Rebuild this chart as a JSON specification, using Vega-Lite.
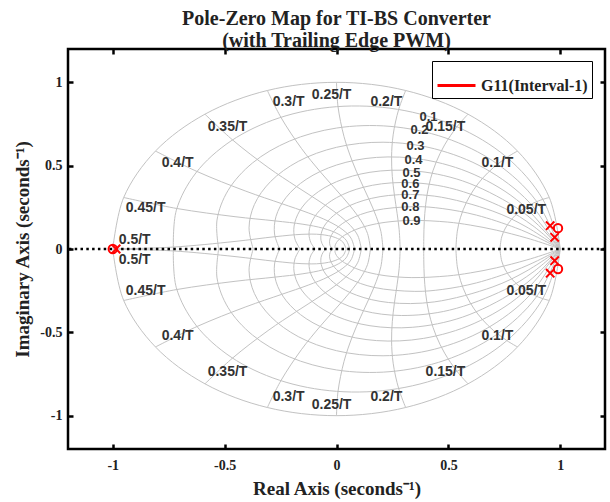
{
"$schema":"https://vega.github.io/schema/vega-lite/v6.json",
"width":537,"height":400,
"autosize":{"type":"none"},
"padding":{"left":68,"top":49,"right":5,"bottom":53},
"background":"white",
"title":{"text":["Pole-Zero Map for TI-BS Converter","(with Trailing Edge PWM)"],"font":"Liberation Serif","fontSize":20,"fontWeight":"bold","color":"#222","anchor":"middle","offset":-3,"lineHeight":22},
"config":{"view":{"stroke":"black","strokeWidth":2.5}},
"datasets":{
"grid":[
{"c":"z0","k":0,"x":1,"y":0},{"c":"z0","k":1,"x":0.95106,"y":0.30902},{"c":"z0","k":2,"x":0.80902,"y":0.58779},{"c":"z0","k":3,"x":0.58779,"y":0.80902},{"c":"z0","k":4,"x":0.30902,"y":0.95106},{"c":"z0","k":5,"x":0,"y":1},{"c":"z0","k":6,"x":-0.30902,"y":0.95106},{"c":"z0","k":7,"x":-0.58779,"y":0.80902},{"c":"z0","k":8,"x":-0.80902,"y":0.58779},{"c":"z0","k":9,"x":-0.95106,"y":0.30902},{"c":"z0","k":10,"x":-1,"y":0},
{"c":"z1","k":0,"x":1,"y":0},{"c":"z1","k":1,"x":0.9215,"y":0.29942},{"c":"z1","k":2,"x":0.75952,"y":0.55182},{"c":"z1","k":3,"x":0.53467,"y":0.7359},{"c":"z1","k":4,"x":0.27235,"y":0.83822},{"c":"z1","k":5,"x":0,"y":0.85395},{"c":"z1","k":6,"x":-0.25569,"y":0.78692},{"c":"z1","k":7,"x":-0.47123,"y":0.64858},{"c":"z1","k":8,"x":-0.62842,"y":0.45658},{"c":"z1","k":9,"x":-0.7158,"y":0.23258},{"c":"z1","k":10,"x":-0.72924,"y":0},
{"c":"z2","k":0,"x":1,"y":0},{"c":"z2","k":1,"x":0.89199,"y":0.28983},{"c":"z2","k":2,"x":0.71165,"y":0.51704},{"c":"z2","k":3,"x":0.48493,"y":0.66745},{"c":"z2","k":4,"x":0.23911,"y":0.7359},{"c":"z2","k":5,"x":0,"y":0.72571},{"c":"z2","k":6,"x":-0.21033,"y":0.64733},{"c":"z2","k":7,"x":-0.37522,"y":0.51645},{"c":"z2","k":8,"x":-0.48437,"y":0.35192},{"c":"z2","k":9,"x":-0.53405,"y":0.17352},{"c":"z2","k":10,"x":-0.52666,"y":0},
{"c":"z3","k":0,"x":1,"y":0},{"c":"z3","k":1,"x":0.86159,"y":0.27995},{"c":"z3","k":2,"x":0.66397,"y":0.48241},{"c":"z3","k":3,"x":0.43702,"y":0.60151},{"c":"z3","k":4,"x":0.20814,"y":0.6406},{"c":"z3","k":5,"x":0,"y":0.6102},{"c":"z3","k":6,"x":-0.17083,"y":0.52575},{"c":"z3","k":7,"x":-0.29437,"y":0.40516},{"c":"z3","k":8,"x":-0.36704,"y":0.26667},{"c":"z3","k":9,"x":-0.3909,"y":0.12701},{"c":"z3","k":10,"x":-0.37234,"y":0},
{"c":"z4","k":0,"x":1,"y":0},{"c":"z4","k":1,"x":0.8292,"y":0.26943},{"c":"z4","k":2,"x":0.61498,"y":0.44681},{"c":"z4","k":3,"x":0.38956,"y":0.53619},{"c":"z4","k":4,"x":0.17856,"y":0.54956},{"c":"z4","k":5,"x":0,"y":0.5038},{"c":"z4","k":6,"x":-0.13574,"y":0.41775},{"c":"z4","k":7,"x":-0.22511,"y":0.30983},{"c":"z4","k":8,"x":-0.27013,"y":0.19626},{"c":"z4","k":9,"x":-0.27687,"y":0.08996},{"c":"z4","k":10,"x":-0.25382,"y":0},
{"c":"z5","k":0,"x":1,"y":0},{"c":"z5","k":0.5,"x":0.90206,"y":0.14287},{"c":"z5","k":1,"x":0.7933,"y":0.25776},{"c":"z5","k":2,"x":0.56288,"y":0.40896},{"c":"z5","k":3,"x":0.34112,"y":0.46952},{"c":"z5","k":4,"x":0.14959,"y":0.46039},{"c":"z5","k":5,"x":0,"y":0.40378},{"c":"z5","k":6,"x":-0.10408,"y":0.32033},{"c":"z5","k":7,"x":-0.16513,"y":0.22729},{"c":"z5","k":8,"x":-0.18959,"y":0.13774},{"c":"z5","k":9,"x":-0.1859,"y":0.0604},{"c":"z5","k":10,"x":-0.16304,"y":0},
{"c":"z6","k":0,"x":1,"y":0},{"c":"z6","k":0.5,"x":0.87793,"y":0.13905},{"c":"z6","k":1,"x":0.75141,"y":0.24415},{"c":"z6","k":2,"x":0.50501,"y":0.36692},{"c":"z6","k":3,"x":0.28989,"y":0.399},{"c":"z6","k":4,"x":0.12041,"y":0.37059},{"c":"z6","k":5,"x":0,"y":0.30787},{"c":"z6","k":6,"x":-0.07517,"y":0.23134},{"c":"z6","k":7,"x":-0.11296,"y":0.15548},{"c":"z6","k":8,"x":-0.12284,"y":0.08925},{"c":"z6","k":9,"x":-0.1141,"y":0.03707},{"c":"z6","k":10,"x":-0.09478,"y":0},
{"c":"z7","k":0,"x":1,"y":0},{"c":"z7","k":0.5,"x":0.84675,"y":0.13411},{"c":"z7","k":1,"x":0.69898,"y":0.22711},{"c":"z7","k":2,"x":0.43699,"y":0.31749},{"c":"z7","k":3,"x":0.23334,"y":0.32116},{"c":"z7","k":4,"x":0.09016,"y":0.27748},{"c":"z7","k":5,"x":0,"y":0.21443},{"c":"z7","k":6,"x":-0.0487,"y":0.14989},{"c":"z7","k":7,"x":-0.06808,"y":0.09371},{"c":"z7","k":8,"x":-0.06887,"y":0.05004},{"c":"z7","k":9,"x":-0.0595,"y":0.01933},{"c":"z7","k":10,"x":-0.04598,"y":0},
{"c":"z8","k":0,"x":1,"y":0},{"c":"z8","k":0.25,"x":0.89781,"y":0.07066},{"c":"z8","k":0.5,"x":0.80106,"y":0.12687},{"c":"z8","k":1,"x":0.62559,"y":0.20327},{"c":"z8","k":1.5,"x":0.47535,"y":0.2422},{"c":"z8","k":2,"x":0.35004,"y":0.25432},{"c":"z8","k":3,"x":0.16728,"y":0.23025},{"c":"z8","k":4,"x":0.05785,"y":0.17805},{"c":"z8","k":5,"x":0,"y":0.12314},{"c":"z8","k":6,"x":-0.02503,"y":0.07704},{"c":"z8","k":7,"x":-0.03132,"y":0.0431},{"c":"z8","k":8,"x":-0.02836,"y":0.0206},{"c":"z8","k":9,"x":-0.02192,"y":0.00712},{"c":"z8","k":10,"x":-0.01517,"y":0},
{"c":"z9","k":0,"x":1,"y":0},{"c":"z9","k":0.125,"x":0.92141,"y":0.0362},{"c":"z9","k":0.25,"x":0.84768,"y":0.06672},{"c":"z9","k":0.5,"x":0.71411,"y":0.1131},{"c":"z9","k":0.75,"x":0.59779,"y":0.14352},{"c":"z9","k":1,"x":0.49716,"y":0.16154},{"c":"z9","k":1.5,"x":0.33676,"y":0.17159},{"c":"z9","k":2,"x":0.22107,"y":0.16062},{"c":"z9","k":2.5,"x":0.1397,"y":0.1397},{"c":"z9","k":3,"x":0.08396,"y":0.11556},{"c":"z9","k":4,"x":0.02307,"y":0.07102},{"c":"z9","k":5,"x":0,"y":0.03903},{"c":"z9","k":6,"x":-0.0063,"y":0.0194},{"c":"z9","k":7,"x":-0.00627,"y":0.00863},{"c":"z9","k":10,"x":-0.00152,"y":0},
{"c":"f05","k":0,"x":0.95106,"y":0.30902},{"c":"f05","k":1,"x":0.92212,"y":0.29802},{"c":"f05","k":2,"x":0.88203,"y":0.2769},{"c":"f05","k":3,"x":0.84559,"y":0.25048},{"c":"f05","k":4,"x":0.81253,"y":0.21822},{"c":"f05","k":5,"x":0.78248,"y":0.17856},{"c":"f05","k":6,"x":0.7552,"y":0.12614},{"c":"f05","k":7,"x":0.73841,"y":0.07267},{"c":"f05","k":8,"x":0.7304,"y":0},
{"c":"f10","k":0,"x":0.80902,"y":0.58779},{"c":"f10","k":1,"x":0.76149,"y":0.5496},{"c":"f10","k":2,"x":0.7013,"y":0.48846},{"c":"f10","k":3,"x":0.65228,"y":0.4236},{"c":"f10","k":4,"x":0.61257,"y":0.3546},{"c":"f10","k":5,"x":0.5804,"y":0.27944},{"c":"f10","k":6,"x":0.55441,"y":0.19051},{"c":"f10","k":7,"x":0.53996,"y":0.10732},{"c":"f10","k":8,"x":0.53349,"y":0},
{"c":"f15","k":0,"x":0.58779,"y":0.80902},{"c":"f15","k":1,"x":0.5384,"y":0.73372},{"c":"f15","k":2,"x":0.48332,"y":0.62502},{"c":"f15","k":3,"x":0.44555,"y":0.52152},{"c":"f15","k":4,"x":0.42036,"y":0.42182},{"c":"f15","k":5,"x":0.40424,"y":0.32228},{"c":"f15","k":6,"x":0.39465,"y":0.2138},{"c":"f15","k":7,"x":0.39091,"y":0.11807},{"c":"f15","k":8,"x":0.38967,"y":0},
{"c":"f20","k":0,"x":0.30902,"y":0.95106},{"c":"f20","k":1,"x":0.27781,"y":0.83703},{"c":"f20","k":2,"x":0.25324,"y":0.6851},{"c":"f20","k":3,"x":0.24615,"y":0.55256},{"c":"f20","k":4,"x":0.24951,"y":0.43447},{"c":"f20","k":5,"x":0.25878,"y":0.32438},{"c":"f20","k":6,"x":0.27107,"y":0.21192},{"c":"f20","k":7,"x":0.28003,"y":0.11589},{"c":"f20","k":8,"x":0.28463,"y":0},
{"c":"f25","k":0,"x":0,"y":1},{"c":"f25","k":1,"x":0.00673,"y":0.85461},{"c":"f25","k":2,"x":0.03366,"y":0.67439},{"c":"f25","k":3,"x":0.06976,"y":0.52891},{"c":"f25","k":4,"x":0.10793,"y":0.40746},{"c":"f25","k":5,"x":0.14457,"y":0.30003},{"c":"f25","k":6,"x":0.17806,"y":0.19371},{"c":"f25","k":7,"x":0.19835,"y":0.10592},{"c":"f25","k":8,"x":0.20788,"y":0},
{"c":"f30","k":0,"x":-0.30902,"y":0.95106},{"c":"f30","k":1,"x":-0.24849,"y":0.79005},{"c":"f30","k":2,"x":-0.15704,"y":0.60415},{"c":"f30","k":3,"x":-0.07347,"y":0.46472},{"c":"f30","k":4,"x":-0.00122,"y":0.35462},{"c":"f30","k":5,"x":0.05955,"y":0.26055},{"c":"f30","k":6,"x":0.11004,"y":0.16874},{"c":"f30","k":7,"x":0.13877,"y":0.09263},{"c":"f30","k":8,"x":0.15183,"y":0},
{"c":"f35","k":0,"x":-0.58779,"y":0.80902},{"c":"f35","k":1,"x":-0.46459,"y":0.65448},{"c":"f35","k":2,"x":-0.30579,"y":0.48937},{"c":"f35","k":3,"x":-0.17852,"y":0.37459},{"c":"f35","k":4,"x":-0.07837,"y":0.28787},{"c":"f35","k":5,"x":0.00007,"y":0.21451},{"c":"f35","k":6,"x":0.06182,"y":0.14131},{"c":"f35","k":7,"x":0.09573,"y":0.07899},{"c":"f35","k":8,"x":0.1109,"y":0},
{"c":"f40","k":0,"x":-0.80902,"y":0.58779},{"c":"f40","k":1,"x":-0.62341,"y":0.46503},{"c":"f40","k":2,"x":-0.40523,"y":0.34699},{"c":"f40","k":3,"x":-0.24476,"y":0.27203},{"c":"f40","k":4,"x":-0.1265,"y":0.2168},{"c":"f40","k":5,"x":-0.03825,"y":0.16788},{"c":"f40","k":6,"x":0.02885,"y":0.1145},{"c":"f40","k":7,"x":0.06498,"y":0.0649},{"c":"f40","k":8,"x":0.08101,"y":0},
{"c":"f45","k":0,"x":-0.95106,"y":0.30902},{"c":"f45","k":1,"x":-0.71347,"y":0.24306},{"c":"f45","k":2,"x":-0.45351,"y":0.19385},{"c":"f45","k":3,"x":-0.27508,"y":0.16873},{"c":"f45","k":4,"x":-0.15008,"y":0.14855},{"c":"f45","k":5,"x":-0.0599,"y":0.12452},{"c":"f45","k":6,"x":0.00735,"y":0.09011},{"c":"f45","k":7,"x":0.04326,"y":0.05264},{"c":"f45","k":8,"x":0.05917,"y":0},
{"c":"f50","k":0,"x":-1,"y":0},{"c":"f50","k":1,"x":-0.73031,"y":0.0115},{"c":"f50","k":2,"x":-0.45367,"y":0.0454},{"c":"f50","k":3,"x":-0.2749,"y":0.07379},{"c":"f50","k":4,"x":-0.15438,"y":0.08795},{"c":"f50","k":5,"x":-0.0691,"y":0.08674},{"c":"f50","k":6,"x":-0.00582,"y":0.06897},{"c":"f50","k":7,"x":0.02812,"y":0.04202},{"c":"f50","k":8,"x":0.04321,"y":0}
],
"labels":[
{"t":"0.5/T","x":-0.902,"y":0.055},{"t":"0.45/T","x":-0.853,"y":0.247},{"t":"0.4/T","x":-0.71,"y":0.518},{"t":"0.35/T","x":-0.487,"y":0.734},{"t":"0.3/T","x":-0.214,"y":0.884},{"t":"0.25/T","x":-0.022,"y":0.926},{"t":"0.2/T","x":0.223,"y":0.884},{"t":"0.15/T","x":0.487,"y":0.734},{"t":"0.1/T","x":0.719,"y":0.518},{"t":"0.05/T","x":0.848,"y":0.235},
{"t":"0.5/T","x":-0.902,"y":-0.065},{"t":"0.45/T","x":-0.853,"y":-0.25},{"t":"0.4/T","x":-0.71,"y":-0.52},{"t":"0.35/T","x":-0.487,"y":-0.74},{"t":"0.3/T","x":-0.214,"y":-0.89},{"t":"0.25/T","x":-0.022,"y":-0.935},{"t":"0.2/T","x":0.223,"y":-0.89},{"t":"0.15/T","x":0.487,"y":-0.74},{"t":"0.1/T","x":0.719,"y":-0.52},{"t":"0.05/T","x":0.848,"y":-0.25}
],
"zlabels":[
{"t":"0.1","x":0.411,"y":0.794},{"t":"0.2","x":0.371,"y":0.716},{"t":"0.3","x":0.353,"y":0.62},{"t":"0.4","x":0.344,"y":0.536},{"t":"0.5","x":0.335,"y":0.458},{"t":"0.6","x":0.33,"y":0.392},{"t":"0.7","x":0.33,"y":0.326},{"t":"0.8","x":0.33,"y":0.253},{"t":"0.9","x":0.335,"y":0.169}
],
"pz":[
{"s":"G11(Interval-1)","m":"o","x":-1.0,"y":0},
{"s":"G11(Interval-1)","m":"x","x":-0.985,"y":0},
{"s":"G11(Interval-1)","m":"o","x":0.99,"y":0.125},
{"s":"G11(Interval-1)","m":"o","x":0.99,"y":-0.12},
{"s":"G11(Interval-1)","m":"x","x":0.955,"y":0.14},
{"s":"G11(Interval-1)","m":"x","x":0.955,"y":-0.145},
{"s":"G11(Interval-1)","m":"x","x":0.975,"y":0.07},
{"s":"G11(Interval-1)","m":"x","x":0.975,"y":-0.07}
]
},
"resolve":{"scale":{"x":"independent","y":"independent"}},
"layer":[
{"data":{"name":"grid"},
 "mark":{"type":"line","color":"#c2c2c2","strokeWidth":1,"interpolate":"catmull-rom"},
 "encoding":{
  "x":{"field":"x","type":"quantitative","scale":{"domain":[-1.2,1.2],"nice":false,"zero":false},
   "axis":{"orient":"bottom","values":[-1,-0.5,0,0.5,1],"format":"~g","labelExpr":"replace(datum.label, '−', '-')","title":"Real Axis (seconds⁻¹)","grid":false,"domain":false,"tickSize":-5,"tickWidth":2.5,"tickColor":"black","labelFont":"Liberation Serif","labelFontSize":14,"labelFontWeight":"bold","labelColor":"#222","labelPadding":14,"titleFont":"Liberation Serif","titleFontSize":19,"titleFontWeight":"bold","titleColor":"#222","titlePadding":7}},
  "y":{"field":"y","type":"quantitative","scale":{"domain":[-1.2,1.2],"nice":false,"zero":false},
   "axis":{"orient":"left","values":[-1,-0.5,0,0.5,1],"format":"~g","labelExpr":"replace(datum.label, '−', '-')","title":"Imaginary Axis (seconds⁻¹)","grid":false,"domain":false,"tickSize":-5,"tickWidth":2.5,"tickColor":"black","labelFont":"Liberation Serif","labelFontSize":14,"labelFontWeight":"bold","labelColor":"#222","labelPadding":11,"titleFont":"Liberation Serif","titleFontSize":19,"titleFontWeight":"bold","titleColor":"#222","titlePadding":7}},
  "detail":{"field":"c"},
  "order":{"field":"k","type":"quantitative"}
 }},
{"data":{"name":"grid"},
 "mark":{"type":"line","color":"#c2c2c2","strokeWidth":1,"interpolate":"catmull-rom"},
 "encoding":{
  "x":{"field":"x","type":"quantitative","scale":{"domain":[-1.2,1.2],"nice":false,"zero":false},
   "axis":{"orient":"top","values":[-1,-0.5,0,0.5,1],"labels":false,"title":null,"grid":false,"domain":false,"tickSize":-5,"tickWidth":2.5,"tickColor":"black"}},
  "y":{"field":"y","type":"quantitative","scale":{"domain":[-1.2,1.2],"nice":false,"zero":false,"reverse":true},
   "axis":{"orient":"right","values":[-1,-0.5,0,0.5,1],"labels":false,"title":null,"grid":false,"domain":false,"tickSize":-5,"tickWidth":2.5,"tickColor":"black"}},
  "detail":{"field":"c"},
  "order":{"field":"k","type":"quantitative"}
 }},
{"data":{"values":[{"v":0}]},
 "mark":{"type":"rule","color":"black","strokeWidth":2.5,"strokeDash":[2.5,3.3]},
 "encoding":{"y":{"field":"v","type":"quantitative","scale":{"domain":[-1.2,1.2],"nice":false,"zero":false},"axis":null}}},
{"data":{"name":"labels"},
 "mark":{"type":"text","font":"Liberation Sans","fontSize":14,"fontWeight":"bold","color":"#333","align":"center","baseline":"middle"},
 "encoding":{
  "x":{"field":"x","type":"quantitative","scale":{"domain":[-1.2,1.2],"nice":false,"zero":false},"axis":null},
  "y":{"field":"y","type":"quantitative","scale":{"domain":[-1.2,1.2],"nice":false,"zero":false},"axis":null},
  "text":{"field":"t"}
 }},
{"data":{"name":"zlabels"},
 "mark":{"type":"text","font":"Liberation Sans","fontSize":13,"fontWeight":"bold","color":"#333","align":"center","baseline":"middle"},
 "encoding":{
  "x":{"field":"x","type":"quantitative","scale":{"domain":[-1.2,1.2],"nice":false,"zero":false},"axis":null},
  "y":{"field":"y","type":"quantitative","scale":{"domain":[-1.2,1.2],"nice":false,"zero":false},"axis":null},
  "text":{"field":"t"}
 }},
{"data":{"name":"pz"},
 "mark":{"type":"point","filled":false,"strokeWidth":2,"size":70,"opacity":1},
 "encoding":{
  "x":{"field":"x","type":"quantitative","scale":{"domain":[-1.2,1.2],"nice":false,"zero":false},"axis":null},
  "y":{"field":"y","type":"quantitative","scale":{"domain":[-1.2,1.2],"nice":false,"zero":false},"axis":null},
  "shape":{"field":"m","type":"nominal","scale":{"domain":["o","x"],"range":["circle","M-1,-1L1,1M-1,1L1,-1"]},"legend":null},
  "color":{"field":"s","type":"nominal","scale":{"range":["#ff0000"]},
   "legend":{"title":null,"orient":"none","legendX":364,"legendY":12,"symbolType":"stroke","symbolSize":1444,"symbolStrokeWidth":3,"labelFont":"Liberation Serif","labelFontSize":16,"labelFontWeight":"bold","labelColor":"#222","strokeColor":"black","fillColor":"white","padding":4,"labelOffset":4}}
 }}
]
}
